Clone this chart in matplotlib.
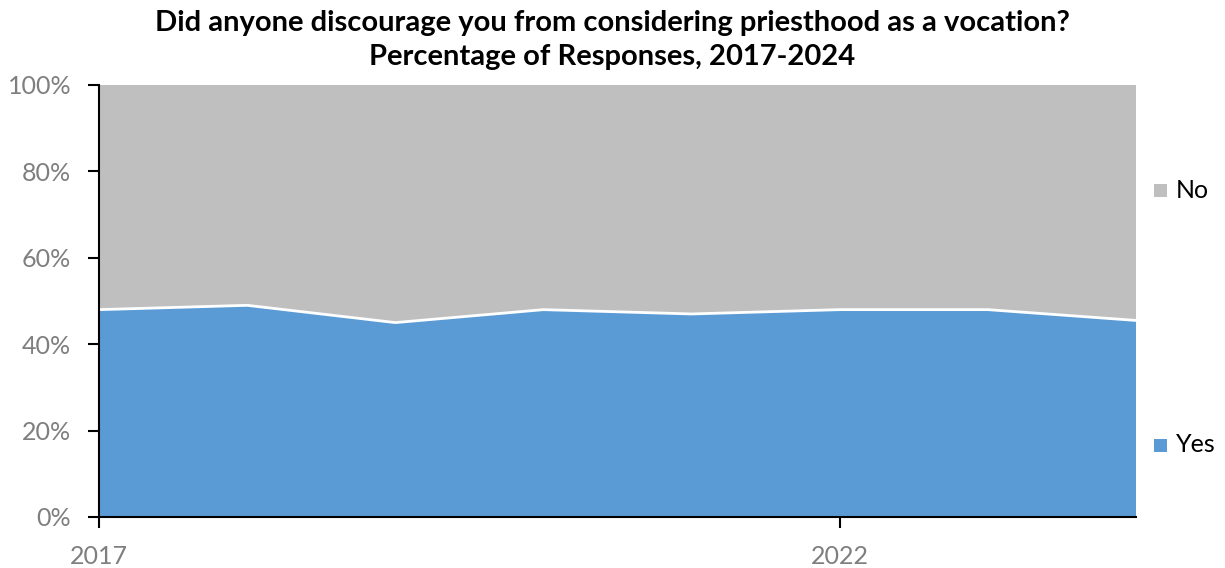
import matplotlib
matplotlib.use("Agg")
import matplotlib.pyplot as plt

years = [2017, 2018, 2019, 2020, 2021, 2022, 2023, 2024]
yes = [48.0, 49.0, 45.0, 48.0, 47.0, 48.0, 48.0, 45.5]
no = [100 - v for v in yes]
series_labels = ["Yes", "No"]
title = "Did anyone discourage you from considering priesthood as a vocation?\nPercentage of Responses, 2017-2024"
xticks = [2017, 2022]
yticks = [0, 20, 40, 60, 80, 100]

blue = "#5B9BD5"
gray = "#BFBFBF"
tick_color = "#7F7F7F"

plt.rcParams['font.family'] = ['Lato', 'DejaVu Sans']

fig = plt.figure(figsize=(12.25, 5.68), dpi=100)
ax = fig.add_axes([99/1225, 1 - 517/568, (1136-99)/1225, (517-85)/568])

ax.stackplot(years, yes, no, colors=[blue, gray], labels=series_labels, linewidth=0)
ax.plot(years, yes, color="white", linewidth=2.0)

ax.set_xlim(years[0], years[-1])
ax.set_ylim(0, 100)
ax.set_xticks(xticks)
ax.set_xticklabels([str(x) for x in xticks])
ax.set_yticks(yticks)
ax.set_yticklabels([f"{v}%" for v in yticks])

for s in ["top", "right"]:
    ax.spines[s].set_visible(False)
for s in ["left", "bottom"]:
    ax.spines[s].set_color("black")
    ax.spines[s].set_linewidth(1.5)
    ax.spines[s].set_zorder(5)

ax.tick_params(axis='y', direction='out', length=8, width=1.5, colors='black',
               labelcolor=tick_color, labelsize=18, pad=12)
ax.tick_params(axis='x', direction='out', length=8, width=1.5, colors='black',
               labelcolor=tick_color, labelsize=18, pad=12)

fig.text(612/1225, 1 - 40/568, title, ha='center', va='center', fontsize=21,
         fontweight='bold', linespacing=1.35)

# legend entries
fig.patches.append(plt.Rectangle((1154/1225, 1 - 197/568), 13/1225, 13/568,
                   transform=fig.transFigure, facecolor=gray, edgecolor='none'))
fig.patches.append(plt.Rectangle((1154/1225, 1 - 452/568), 13/1225, 13/568,
                   transform=fig.transFigure, facecolor=blue, edgecolor='none'))
fig.text(1176/1225, 1 - 190/568, series_labels[1], ha='left', va='center', fontsize=18, color='black')
fig.text(1176/1225, 1 - 445/568, series_labels[0], ha='left', va='center', fontsize=18, color='black')

fig.savefig("out.png", dpi=100)
